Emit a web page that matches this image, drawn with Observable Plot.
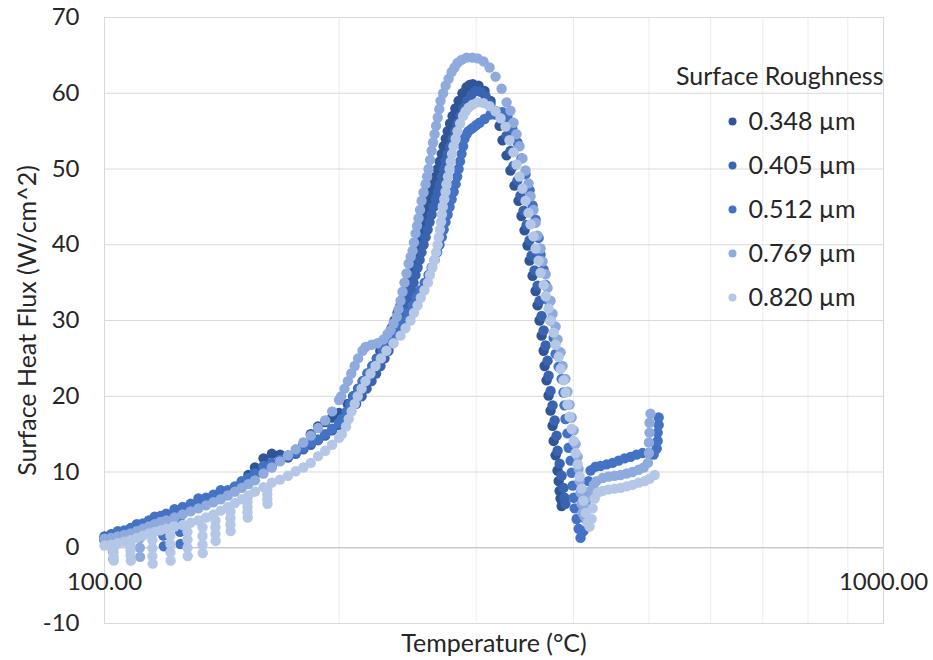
<!DOCTYPE html>
<html>
<head>
<meta charset="utf-8">
<script src="https://cdn.jsdelivr.net/npm/d3@7"></script>
<script src="https://cdn.jsdelivr.net/npm/@observablehq/plot@0.6"></script>
<style>
  body { margin: 0; background: #fff; }
  #chart { width: 933px; height: 660px; }
</style>
</head>
<body>
<div id="chart"></div>
<script>
// Surface heat flux vs temperature for five surface roughness values.
const labels = ["0.348 µm", "0.405 µm", "0.512 µm", "0.769 µm", "0.820 µm"];
const colors = ["#2f5597", "#3a64b0", "#4472c4", "#8faadc", "#b4c7e7"];
const yTicks = [-10, 0, 10, 20, 30, 40, 50, 60, 70];
const xLabelTicks = [100, 1000];
const xGrid = [200, 300, 400, 500, 600, 700, 800, 900];

// [temperature °C, heat flux W/cm^2]
const r348 = [
  [100,1.0],[102,1.3],[104,1.6],[106,1.9],[108,2.2],[110,2.5],[112,2.8],[114,3.1],[116,3.4],[118,3.7],[120,4.0],[123,4.4],[126,4.8],[129,5.2],[132,5.6],[135,6.0],[138,6.4],[141,6.8],[144,7.2],[147,7.8],[150,8.6],[153,9.6],[156,10.6],[160,11.8],[164,12.4],[168,12.3],[172,12.0],[176,12.6],[180,13.6],[184,15.0],[188,16.0],[192,16.6],[196,17.2],[200,17.8],
  [205.2,19],[208.5,20],[211.6,21],[214.7,22],[217.6,23],[220.8,24],[223.6,25],[226.0,26],[228.7,27],[231.2,28],[233.6,29],[235.7,30],[237.8,31],[239.9,32],[242.0,33],[243.8,34],[245.5,35],[247.2,36],[248.8,37],[250.4,38],[251.8,39],[253.1,40],[254.5,41],[255.9,42],[257.3,43],[258.7,44],[260.1,45],[261.5,46],[263.0,47],[264.6,48],[266.2,49],[267.8,50],[269.4,51],[271.0,52],[272.5,53],[274.2,54],[275.8,55],[277.7,56],[279.8,57],[282.1,58],[284.8,59],[288.1,60],[291.6,60.8],[294.3,61.1],[297.0,61.2],[302.1,61.0],[307.5,60.3],[313.0,59.0],[317.7,57.5],
  [321.5,55.7],[324.3,53.8],[328.2,51.8],[332.0,49.8],[336.0,47.8],[340.0,45.8],[343.0,43.8],[346.1,41.9],[349.2,39.9],[351.3,37.9],[354.4,35.9],[357.6,33.9],[359.7,32.0],[361.8,30.0],[364.0,28.0],[366.2,26.0],[367.3,24.0],[369.4,22.1],[371.6,20.1],[373.8,18.1],[376.0,16.1],[377.2,14.1],[379.4,12.2],[381.6,10.2],[382.8,8.8],[383.9,7.5],[385.0,6.5],[386.2,5.5],[387.3,5.8]
];

const r405 = [
  [100,1.5],[102,1.8],[104,2.0],[106,2.2],[108,2.5],[110,2.8],[112,3.0],[114,3.3],[116,3.6],[118,3.9],[120,4.2],[123,4.6],[126,5.0],[129,5.5],[132,6.0],[135,6.4],[138,6.8],[141,7.1],[144,7.4],[147,7.9],[150,8.4],[153,9.0],[156,9.6],[160,10.3],[164,11.0],[168,11.5],[172,11.9],[176,12.4],[180,13.0],[184,13.6],[188,14.2],[192,14.8],[196,15.5],[200,16.2],
  [203.3,17],[207.0,18],[210.4,19],[213.8,20],[217.0,21],[220.2,22],[223.2,23],[226.1,24],[228.8,25],[231.5,26],[233.9,27],[236.4,28],[238.5,29],[240.6,30],[242.4,31],[244.2,32],[246.0,33],[247.8,34],[249.3,35],[250.8,36],[252.3,37],[253.8,38],[255.2,39],[256.8,40],[258.3,41],[259.9,42],[261.4,43],[263.0,44],[264.6,45],[266.2,46],[267.8,47],[269.4,48],[271.0,49],[272.6,50],[274.0,51],[275.7,52],[277.7,53],[279.8,54],[281.9,55],[283.9,56],[286.4,57],[288.9,58],[292.4,59],[295.8,59.8],[299.4,60.3],[303.9,60.2],[308.4,59.6],[313.0,58.6],[317.7,57.2],
  [325.3,56.4],[328.2,54.4],[332.0,52.4],[335.0,50.4],[339.0,48.5],[342.0,46.5],[345.1,44.5],[348.2,42.6],[351.3,40.6],[353.4,38.6],[356.5,36.6],[359.7,34.6],[361.8,32.6],[364.0,30.6],[366.2,28.7],[368.4,26.7],[370.5,24.7],[371.6,22.7],[373.8,20.7],[376.0,18.8],[378.3,16.8],[380.5,14.8],[381.6,12.8],[383.9,11.1],[386.2,9.5],[388.4,7.9],[389.5,6.6],[390.6,5.8]
];

const r512 = [
  [100,1.3],[102,1.7],[104,2.2],[106,2.3],[108,2.6],[110,3.1],[112,3.2],[114,3.6],[116,4.1],[118,4.2],[120,4.5],[123,5.1],[126,5.4],[129,5.8],[132,6.5],[135,6.6],[138,7.0],[141,7.6],[144,7.6],[147,8.1],[150,8.8],[153,9.2],[156,9.8],[160,10.8],[164,11.2],[168,11.6],[172,12.2],[176,12.6],[180,13.2],[184,13.9],[188,14.3],[192,15.0],[196,15.7],[200,16.5],
  [118.8,3.0],[119.0,1.6],[119.2,0.2],[124.8,3.7],[125.0,2.1],[125.2,0.5],
  [201.7,17],[204.6,18],[206.7,19],[208.9,20],[211.7,21],[214.4,22],[217.6,23],[220.8,24],[224.1,25],[227.5,26],[230.8,27],[234.3,28],[238.1,29],[242.0,30],[245.3,31],[248.6,32],[251.5,33],[254.5,34],[257.6,35],[260.6,36],[263.0,37],[265.3,38],[267.3,39],[269.2,40],[271.0,41],[272.5,42],[274.0,43],[275.7,44],[277.3,45],[279.0,46],[280.7,47],[282.3,48],[283.6,49],[284.8,50],[286.0,51],[287.3,52],[288.6,53],[289.8,54],[291.6,54.6],[293.2,55],[295.8,55.3],[297.6,55.5],[300.2,55.8],[303.0,56.1],[307.5,56.6],[313.0,57.2],[318.6,57.6],[324.3,57.5],[329.1,57.0],
  [333.9,55.3],[339.0,53.5],[343.0,51.4],[347.1,49.3],[351.3,47.2],[354.4,45.2],[357.6,43.3],[360.8,40.9],[362.9,38.7],[366.2,36.7],[368.4,34.7],[371.6,32.6],[373.8,30.0],[377.2,27.7],[379.4,25.6],[382.8,23.9],[386.2,22.3],[388.4,20.5],[389.5,18.8],[390.6,17.0],[392.9,15.1],[394.3,13.2],[396.6,11.5],[397.8,9.9],[399.0,8.2],[400.2,6.6],[401.4,5.2],[403.7,3.8],[406.1,2.5],[408.4,1.3],[412.0,2.2],[414.5,3.8],[415.6,5.5],[416.9,7.3],[418.1,8.8],[420.7,10.2],
  [426.9,10.7],[433.3,10.8],[441.2,11.0],[449.0,11.2],[457.0,11.5],[465.2,11.8],[473.5,12.0],[481.9,12.3],[490.6,12.5],[499.4,12.5],[506.9,12.3],[511.5,13.1],[513.0,14.1],[513.0,15.2],[514.5,16.2],[514.5,17.2]
];

const r769 = [
  [100,1.2],[102,1.3],[104,1.5],[106,1.7],[108,1.9],[110,2.2],[112,2.5],[114,2.8],[116,3.1],[118,3.4],[120,3.6],[123,4.0],[126,4.4],[129,4.8],[132,5.2],[135,5.6],[138,6.0],[141,6.4],[144,6.9],[147,7.4],[150,7.9],[153,8.4],[156,8.9],[160,9.8],[164,10.6],[168,11.4],[172,12.2],[176,13.0],[180,13.9],[184,14.8],[188,15.8],[192,16.8],[196,18.0],[200,19.5],
  [102.4,0.4],[102.5,-0.5],[102.6,-1.5],[110.9,1.2],[111.0,0.0],[111.1,-1.2],
  [201.3,20],[203.3,21],[205.3,22],[207.4,23],[209.5,24],[211.6,25],[214.4,26],[216.3,26.5],[220.2,26.8],[224.1,27],[228.1,27.5],[230.8,28.2],[232.9,28.7],[235.0,29.6],[237.3,30.5],[238.5,31.5],[239.9,32.6],[241.3,33.8],[242.7,35],[244.2,36.2],[245.7,37.5],[247.2,38.4],[248.6,39.2],[249.6,40.3],[250.8,41.5],[251.9,42.5],[253.0,43.5],[254.1,44.6],[255.3,45.8],[256.8,46.9],[258.3,48],[259.5,49],[260.6,50],[261.8,51.2],[263.0,52.4],[264.1,53.5],[265.3,54.6],[266.5,55.7],[267.8,56.8],[269.0,57.9],[270.0,59],[272.1,60],[274.1,61],[276.5,61.9],[279.0,62.8],[281.4,63.4],[283.9,64],[287.3,64.4],[291.6,64.7],[296.7,64.7],[301.3,64.6],[306.6,64.2],[312.1,63.4],[317.7,62.2],[323.4,60.6],[328.2,58.8],
  [332.0,57.7],[335.0,56.1],[338.0,54.6],[341.0,53.0],[344.0,51.4],[347.1,49.8],[350.2,48.1],[352.3,46.4],[355.4,44.6],[357.6,42.9],[359.7,41.2],[362.9,39.5],[365.1,37.8],[368.4,36.1],[370.5,34.3],[373.8,32.6],[376.0,30.9],[379.4,29.2],[381.6,27.5],[385.0,25.8],[387.3,24.0],[390.6,22.3],[392.9,20.6],[395.4,18.9],[397.8,17.2],[400.2,15.5],[402.5,13.7],[405.0,12.0],[406.1,10.4],[407.3,8.8],[408.4,7.3],[409.6,5.8],[410.8,4.6],[413.3,4.1],[415.6,5.2],[418.1,6.5],[420.7,7.5],[424.6,8.3],
  [428.1,8.8],[435.9,9.2],[443.7,9.4],[451.7,9.5],[459.7,9.6],[468.0,9.8],[476.3,10.0],[484.9,10.3],[492.2,10.6],[498.4,11.2],[499.9,12.5],[499.9,13.9],[500.8,15.2],[500.8,16.5],[502.3,17.7]
];

const r820 = [
  [100,0.3],[102,0.4],[104,0.6],[106,0.8],[108,1.0],[110,1.3],[112,1.6],[114,1.9],[116,2.1],[118,2.3],[120,2.5],[123,2.8],[126,3.0],[129,3.3],[132,3.6],[135,4.0],[138,4.4],[141,4.9],[144,5.4],[147,5.9],[150,6.4],[153,6.9],[156,7.4],[160,8.0],[164,8.6],[168,9.0],[172,9.5],[176,10.1],[180,10.6],[184,11.2],[188,12.1],[192,12.8],[196,13.6],[200,14.5],
  [102.7,-0.1],[102.7,-0.6],[102.7,-1.2],[102.8,-1.7],
  [108.0,0.3],[108.0,-0.35],[108.0,-1.0],[108.1,-1.7],
  [115.2,1.0],[115.2,-0.05],[115.2,-1.1],[115.3,-2.1],
  [121.5,1.6],[121.5,0.5],[121.5,-0.6],[121.6,-1.7],
  [127.8,2.1],[127.8,1.05],[127.8,0.0],[127.9,-1.1],
  [133.6,2.7],[133.6,1.55],[133.6,0.4],[133.7,-0.7],
  [138.8,3.6],[138.8,2.7],[138.8,1.8],[138.9,0.9],
  [145.1,4.75],[145.1,3.9],[145.1,3.05],[145.2,2.2],
  [152.6,6.1],[152.6,5.4],[152.6,4.7],[152.7,4.0],
  [161.8,7.7],[161.8,7.05],[161.8,6.4],[161.9,5.8],
  [201.7,15],[204.2,16],[205.8,17],[207.6,18],[209.5,19],[211.4,20],[213.8,21],[216.3,22],[219.5,23],[222.8,24],[226.4,25],[230.1,26],[235.0,27],[239.9,28],[243.5,29],[247.1,30],[249.6,31],[252.3,32],[254.7,33],[257.4,34],[260.1,35],[261.7,36],[263.6,37],[265.2,38],[266.5,39],[267.7,40],[268.6,41],[269.5,42],[270.4,43],[271.1,44],[271.8,45],[273.0,46],[274.0,47],[274.8,48],[276.0,49],[277.3,50],[278.3,51],[279.3,52],[280.6,53],[282.3,54],[283.9,55],[286.1,56],[288.6,57],[290.7,57.6],[293.3,58.1],[296.7,58.5],[301.3,58.8],[306.6,58.7],[312.1,58.3],[317.7,57.6],[322.4,56.7],[327.2,55.6],
  [331.0,53.8],[335.0,52.2],[338.0,50.6],[341.0,49.0],[344.0,47.4],[347.1,45.8],[350.2,44.2],[352.3,42.7],[355.4,41.1],[357.6,39.5],[360.8,37.9],[362.9,36.3],[366.2,34.7],[368.4,33.2],[371.6,31.6],[373.8,30.0],[377.2,28.4],[379.4,26.8],[382.8,25.2],[385.0,23.6],[388.4,22.1],[390.6,20.5],[392.9,18.9],[395.4,17.3],[397.8,15.7],[400.2,14.1],[402.5,12.5],[405.0,11.0],[407.3,9.4],[409.6,7.8],[412.0,6.2],[414.5,4.6],[416.9,3.3],[419.4,2.8],[422.0,3.8],[423.3,5.2],[425.9,6.5],[429.7,7.3],
  [435.9,7.5],[443.7,7.7],[451.7,7.8],[459.7,7.9],[468.0,8.1],[476.3,8.3],[484.9,8.6],[493.6,8.8],[500.8,9.1],[508.5,9.6]
];

const seriesData = [r348, r405, r512, r769, r820];
const legendTitle = "Surface Roughness";
const xTitle = "Temperature (°C)";
const yTitle = "Surface Heat Flux (W/cm^2)";

// Flatten in legend order so the lighter series are painted on top.
const rows = seriesData.flatMap((pts, i) => pts.map(([t, q]) => ({t, q, s: labels[i]})));

const textColor = "#262626";
const tickSize = 24;
const titleSize = 25;

// Legend: one dot and one label per series, stacked at the upper right of the frame.
const legendMarks = labels.flatMap((lab, i) => [
  Plot.dot([lab], {frameAnchor: "top-left", dx: 628, dy: 104 + 44 * i, r: 4, fill: colors[i]}),
  Plot.text([lab], {frameAnchor: "top-left", dx: 644, dy: 104 + 44 * i, text: d => d, textAnchor: "start", lineAnchor: "middle", fill: textColor, fontSize: titleSize})
]);

const chart = Plot.plot({
  width: 933,
  height: 660,
  marginLeft: 104,
  marginRight: 50,
  marginTop: 17,
  marginBottom: 37,
  style: {fontFamily: "Lato, 'Open Sans', sans-serif", fontSize: tickSize + "px", color: textColor, background: "#fff"},
  x: {type: "log", domain: [100, 1000], axis: null},
  y: {domain: [-10, 70], axis: null},
  color: {domain: labels, range: colors},
  marks: [
    Plot.gridX(xGrid, {stroke: "#ececec", strokeOpacity: 1}),
    Plot.gridY(yTicks, {stroke: "#d9d9d9", strokeOpacity: 1}),
    Plot.frame({stroke: "#d9d9d9"}),
    Plot.ruleY([0], {stroke: "#bfbfbf"}),
    Plot.axisY(yTicks, {tickSize: 0, tickPadding: 25, label: null, fill: textColor, fontSize: tickSize, tickFormat: d => String(d)}),
    Plot.text(xLabelTicks, {x: d => d, y: 0, dy: 35, text: d => d3.format(".2f")(d), fill: textColor, fontSize: tickSize}),
    Plot.dot(rows, {x: "t", y: "q", fill: "s", r: 5.2}),
    Plot.text([xTitle], {frameAnchor: "bottom", dy: 20, lineAnchor: "middle", text: d => d, fill: textColor, fontSize: titleSize}),
    Plot.text([yTitle], {frameAnchor: "left", dx: -77, rotate: -90, textAnchor: "middle", lineAnchor: "middle", text: d => d, fill: textColor, fontSize: titleSize}),
    Plot.text([legendTitle], {frameAnchor: "top-right", dy: 59, lineAnchor: "middle", text: d => d, textAnchor: "end", fill: textColor, fontSize: titleSize}),
    ...legendMarks
  ]
});

document.getElementById("chart").append(chart);
</script>
</body>
</html>
